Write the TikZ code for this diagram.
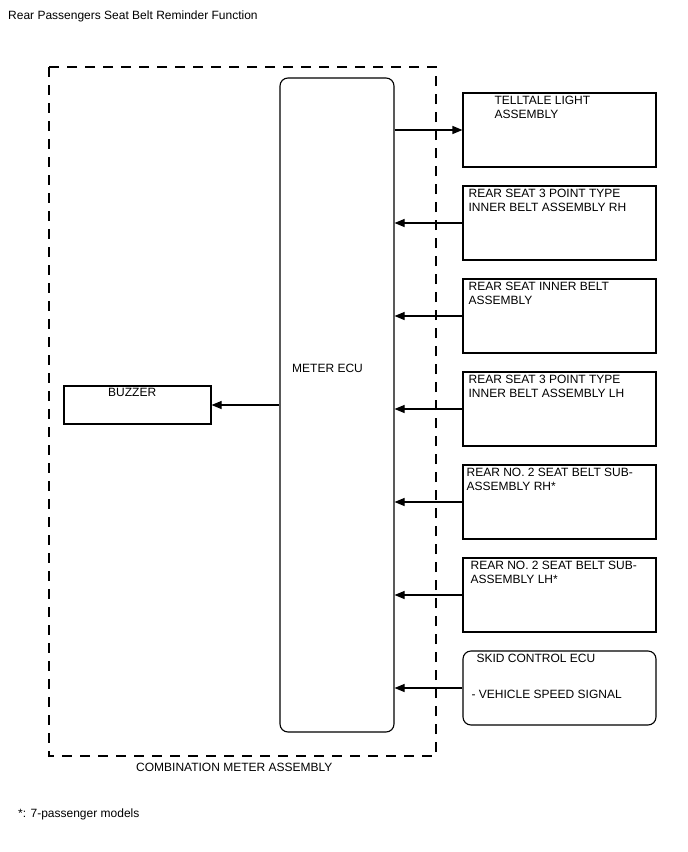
\documentclass[tikz,border=0pt]{standalone}
\usepackage{fontspec}
\setmainfont{Liberation Sans}
\usetikzlibrary{arrows.meta,calc}

\begin{document}
\begin{tikzpicture}[x=1pt,y=-1pt,
  font=\fontsize{12}{14}\selectfont,
  box/.style={draw, line width=1.1pt, minimum width=193pt, minimum height=74pt, inner sep=0pt},
  rbox/.style={box, rounded corners=8pt},
  txt/.style={anchor=north west, inner sep=0pt, align=left},
  sig/.style={line width=1.1pt, -{Triangle[length=10pt,width=8pt]}}]

% ---------- Parameter (Raster der rechten Boxen) ----------
\def\xbox{559.5}
\def\ystep{93}

\useasboundingbox (0,0) rectangle (688,852);

% ===================
% Titel und Fussnote
% ===================
\node[txt] (title) at (8,11) {Rear Passengers Seat Belt Reminder Function};
\node[txt] (note) at (18,809) {*: 7-passenger models};

% ===================
% Kombiinstrument (gestrichelt)
% ===================
\draw[line width=1.1pt, dash pattern=on 10pt off 8pt] (49,67) rectangle (436,756);
\node[txt] (comb) at (136,763) {COMBINATION METER ASSEMBLY};

\node[draw, line width=1.1pt, rounded corners=8pt, minimum width=114pt,
  minimum height=654pt, inner sep=0pt] (ecu) at (337,405) {};
\node[txt] (ecutxt) at (292,364) {METER ECU};

\node[draw, line width=1.1pt, minimum width=147pt, minimum height=38pt,
  inner sep=0pt] (buzzer) at (137.5,405) {};
\node[txt] (buzzertxt) at (108,388) {BUZZER};

% ===================
% rechte Seite: Sensoren / Anzeigen
% ===================
\node[box]  (tell)  at (\xbox,130) {};
\node[box]  (rsrh)  at (\xbox,130+\ystep) {};
\node[box]  (inner) at (\xbox,130+2*\ystep) {};
\node[box]  (rslh)  at (\xbox,130+3*\ystep) {};
\node[box]  (norh)  at (\xbox,130+4*\ystep) {};
\node[box]  (nolh)  at (\xbox,130+5*\ystep) {};
\node[rbox] (skid)  at (\xbox,130+6*\ystep) {};

\node[txt] at ($(tell.north west)+(32,3)$) {TELLTALE LIGHT\\ASSEMBLY};
\node[txt] at ($(rsrh.north west)+(6,3)$) {REAR SEAT 3 POINT TYPE\\INNER BELT ASSEMBLY RH};
\node[txt] at ($(inner.north west)+(6,3)$) {REAR SEAT INNER BELT\\ASSEMBLY};
\node[txt] at ($(rslh.north west)+(6,3)$) {REAR SEAT 3 POINT TYPE\\INNER BELT ASSEMBLY LH};
\node[txt] at ($(norh.north west)+(4,3)$) {REAR NO. 2 SEAT BELT SUB-\\ASSEMBLY RH*};
\node[txt] at ($(nolh.north west)+(8,3)$) {REAR NO. 2 SEAT BELT SUB-\\ASSEMBLY LH*};
\node[txt] at ($(skid.north west)+(14,3)$) {SKID CONTROL ECU};
\node[txt] at ($(skid.north west)+(9,39)$) {- VEHICLE SPEED SIGNAL};

% ---------- Signale ----------
\draw[sig] (ecu.west |- buzzer.east) -- (buzzer.east);
\draw[sig] (ecu.east |- tell.west) -- (tell.west);
\foreach \n in {rsrh,inner,rslh,norh,nolh,skid}
  \draw[sig] (\n.west) -- (ecu.east |- \n.west);

\end{tikzpicture}
\end{document}
